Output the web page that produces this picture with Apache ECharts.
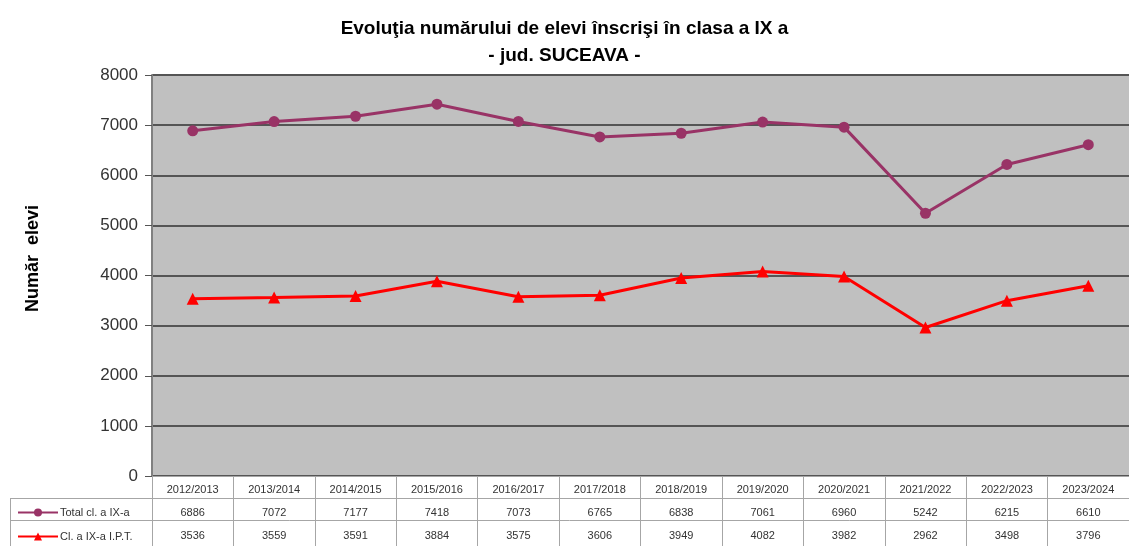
<!DOCTYPE html>
<html>
<head>
<meta charset="utf-8">
<script src="https://cdn.jsdelivr.net/npm/echarts@6/dist/echarts.min.js"></script>
<style>
  html, body { margin: 0; padding: 0; background: #fff; }
  #chart { width: 1129px; height: 546px; }
</style>
</head>
<body>
<div id="chart"></div>
<script>
const years = ['2012/2013', '2013/2014', '2014/2015', '2015/2016', '2016/2017', '2017/2018',
  '2018/2019', '2019/2020', '2020/2021', '2021/2022', '2022/2023', '2023/2024']
const totalIX = [6886, 7072, 7177, 7418, 7073, 6765, 6838, 7061, 6960, 5242, 6215, 6610]
const iptIX = [3536, 3559, 3591, 3884, 3575, 3606, 3949, 4082, 3982, 2962, 3498, 3796]
const yTicks = [0, 1000, 2000, 3000, 4000, 5000, 6000, 7000, 8000]

const gridLeft = 152
const gridTop = 75
const gridBottom = 476
const tableLine = '#a6a6a6'

const chart = echarts.init(document.getElementById('chart'))

// one legend per table row, so each sits in its own cell
const legendBase = {
  orient: 'horizontal',
  left: 12,
  itemWidth: 40,
  itemHeight: 10,
  textStyle: { fontSize: 11, color: '#333', padding: [0, 0, 0, -3] }
}

const option = {
  animation: false,
  textStyle: { fontFamily: 'Liberation Sans, Arial, sans-serif' },
  title: {
    text: 'Evoluţia numărului de elevi înscrişi în clasa a IX a\n- jud. SUCEAVA -',
    left: 'center',
    top: 10,
    textStyle: { fontSize: 19, fontWeight: 'bold', color: '#000', lineHeight: 27 }
  },
  legend: [
    Object.assign({}, legendBase, { top: 502, data: ['Total cl. a IX-a'] }),
    Object.assign({}, legendBase, { top: 526, data: ['Cl. a IX-a I.P.T.'] })
  ],
  grid: {
    left: gridLeft,
    right: 0,
    top: gridTop,
    bottom: 546 - gridBottom,
    outerBoundsMode: 'none',
    show: true,
    backgroundColor: '#c0c0c0',
    borderWidth: 0
  },
  xAxis: {
    type: 'category',
    data: years,
    boundaryGap: true,
    axisLine: { show: true, lineStyle: { color: tableLine, width: 1 } },
    axisTick: { show: true, length: 70, lineStyle: { color: tableLine, width: 1 } },
    axisLabel: {
      interval: 0,
      margin: 2,
      fontSize: 11,
      color: '#333',
      lineHeight: 23,
      formatter: function (val, i) {
        return val + '\n' + totalIX[i] + '\n' + iptIX[i]
      }
    }
  },
  yAxis: {
    type: 'value',
    min: yTicks[0],
    max: yTicks[yTicks.length - 1],
    interval: 1000,
    name: 'Număr  elevi',
    nameLocation: 'middle',
    nameGap: 110,
    nameTextStyle: { fontSize: 18, fontWeight: 'bold', color: '#000', padding: [0, 0, 0, 34] },
    axisLine: { show: true, lineStyle: { color: '#808080', width: 2 } },
    axisTick: { show: true, length: 7, lineStyle: { color: '#555', width: 1 } },
    axisLabel: { fontSize: 17, color: '#333', margin: 14, formatter: function (v) { return String(v) } },
    splitLine: { show: true, lineStyle: { color: '#555', width: 2 } }
  },
  series: [
    {
      name: 'Total cl. a IX-a',
      type: 'line',
      data: totalIX,
      symbol: 'circle',
      symbolSize: 11,
      lineStyle: { color: '#993366', width: 3 },
      itemStyle: { color: '#993366' }
    },
    {
      name: 'Cl. a IX-a I.P.T.',
      type: 'line',
      data: iptIX,
      symbol: 'triangle',
      symbolSize: 12,
      lineStyle: { color: '#ff0000', width: 3 },
      itemStyle: { color: '#ff0000' }
    }
  ],
  graphic: [
    // data table borders
    { type: 'line', shape: { x1: gridLeft, y1: 498.5, x2: 1129, y2: 498.5 }, style: { stroke: tableLine, lineWidth: 1 } },
    { type: 'line', shape: { x1: 10, y1: 498.5, x2: gridLeft, y2: 498.5 }, style: { stroke: tableLine, lineWidth: 1 } },
    { type: 'line', shape: { x1: 10, y1: 520.5, x2: 1129, y2: 520.5 }, style: { stroke: tableLine, lineWidth: 1 } },
    { type: 'line', shape: { x1: 10.5, y1: 498, x2: 10.5, y2: 546 }, style: { stroke: tableLine, lineWidth: 1 } },
    { type: 'line', shape: { x1: gridLeft + 0.5, y1: 476, x2: gridLeft + 0.5, y2: 546 }, style: { stroke: tableLine, lineWidth: 1 } }
  ]
}

chart.setOption(option)
</script>
</body>
</html>
